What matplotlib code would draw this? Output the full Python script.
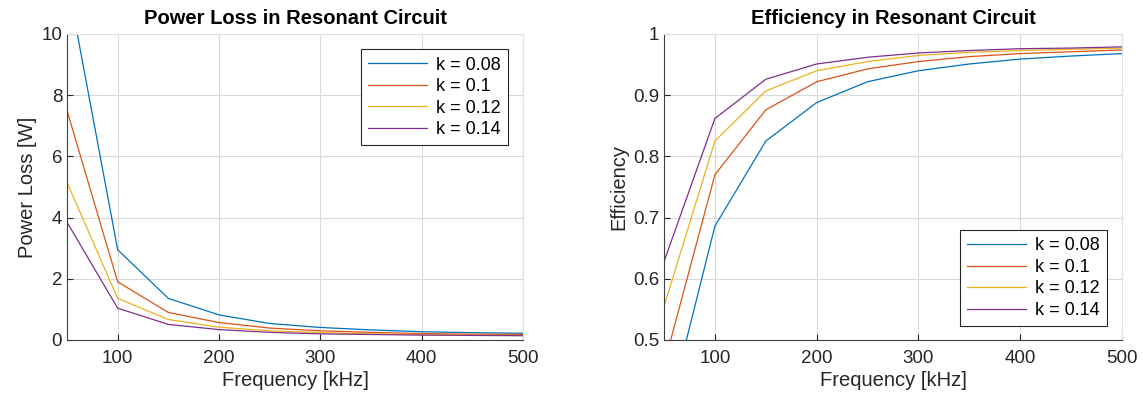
import matplotlib
matplotlib.use("Agg")
import matplotlib.pyplot as plt
import numpy as np

plt.rcParams['font.family'] = ['Liberation Sans', 'DejaVu Sans']

# frequency sweep [kHz]
freq = [50, 100, 150, 200, 250, 300, 350, 400, 450, 500]
k_labels = ['k = 0.08', 'k = 0.1', 'k = 0.12', 'k = 0.14']

# power loss [W]
loss_k008 = [11.8, 2.95, 1.36, 0.82, 0.54, 0.41, 0.33, 0.27, 0.24, 0.22]
loss_k010 = [7.5, 1.90, 0.90, 0.57, 0.39, 0.30, 0.25, 0.21, 0.19, 0.18]
loss_k012 = [5.15, 1.36, 0.67, 0.42, 0.30, 0.24, 0.20, 0.18, 0.16, 0.15]
loss_k014 = [3.85, 1.04, 0.51, 0.34, 0.25, 0.20, 0.18, 0.16, 0.15, 0.14]

# efficiency
eff_k008 = [0.354, 0.686, 0.825, 0.888, 0.922, 0.940, 0.951, 0.959, 0.964, 0.968]
eff_k010 = [0.459, 0.770, 0.876, 0.922, 0.943, 0.955, 0.963, 0.968, 0.971, 0.974]
eff_k012 = [0.555, 0.825, 0.907, 0.940, 0.955, 0.965, 0.970, 0.973, 0.975, 0.977]
eff_k014 = [0.628, 0.862, 0.926, 0.951, 0.962, 0.969, 0.973, 0.976, 0.977, 0.979]

colors = ['#0072BD', '#D95319', '#EDB120', '#7E2F8E']
axc = '#262626'

fig = plt.figure(figsize=(11.43, 4.01), dpi=100)
ax1 = fig.add_axes([67/1143, 1-340/401, 456/1143, 306/401])
ax2 = fig.add_axes([664/1143, 1-340/401, 458/1143, 306/401])


def style(ax):
    ax.grid(True, color='#d9d9d9', linewidth=0.8)
    ax.set_axisbelow(True)
    for s in ['top', 'right']:
        ax.spines[s].set_color('#e0e0e0')
    for s in ['left', 'bottom']:
        ax.spines[s].set_color('#404040')
    ax.tick_params(direction='in', colors=axc, labelsize=13.5, length=4,
                   top=False, right=False)
    ax.tick_params(axis='x', pad=7)


for y, c, lab in zip([loss_k008, loss_k010, loss_k012, loss_k014], colors, k_labels):
    ax1.plot(freq, y, color=c, linewidth=0.9, label=lab)
ax1.set_xlim(50, 500)
ax1.set_ylim(0, 10)
ax1.set_xticks([100, 200, 300, 400, 500])
ax1.set_yticks([0, 2, 4, 6, 8, 10])
ax1.set_xlabel('Frequency [kHz]', fontsize=14.5, color=axc, labelpad=3)
ax1.set_ylabel('Power Loss [W]', fontsize=14.5, color=axc, labelpad=3)
ax1.set_title('Power Loss in Resonant Circuit', fontsize=14.5, fontweight='bold', pad=7)
style(ax1)
leg1 = ax1.legend(loc='upper right', bbox_to_anchor=(0.968, 0.95), fontsize=13,
                  fancybox=False, framealpha=1, edgecolor=axc, handlelength=3.3,
                  borderaxespad=0, labelspacing=0.25, handletextpad=0.5)
leg1.get_frame().set_linewidth(0.8)

for y, c, lab in zip([eff_k008, eff_k010, eff_k012, eff_k014], colors, k_labels):
    ax2.plot(freq, y, color=c, linewidth=0.9, label=lab)
ax2.set_xlim(50, 500)
ax2.set_ylim(0.5, 1)
ax2.set_xticks([100, 200, 300, 400, 500])
ax2.set_yticks([0.5, 0.6, 0.7, 0.8, 0.9, 1])
ax2.set_yticklabels(['0.5', '0.6', '0.7', '0.8', '0.9', '1'])
ax2.set_xlabel('Frequency [kHz]', fontsize=14.5, color=axc, labelpad=3)
ax2.set_ylabel('Efficiency', fontsize=14.5, color=axc, labelpad=3)
ax2.set_title('Efficiency in Resonant Circuit', fontsize=14.5, fontweight='bold', pad=7)
style(ax2)
leg2 = ax2.legend(loc='lower right', bbox_to_anchor=(0.968, 0.045), fontsize=13,
                  fancybox=False, framealpha=1, edgecolor=axc, handlelength=3.3,
                  borderaxespad=0, labelspacing=0.25, handletextpad=0.5)
leg2.get_frame().set_linewidth(0.8)

fig.savefig('out.png', dpi=100)
